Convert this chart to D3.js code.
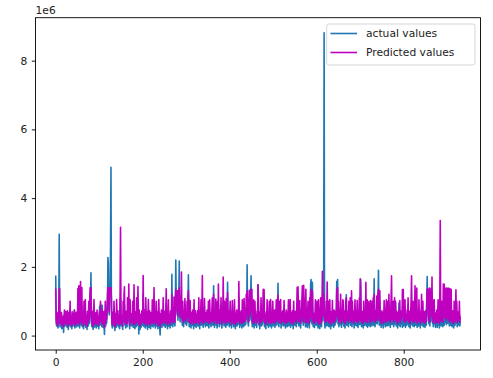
<!DOCTYPE html>
<html>
<head>
<meta charset="utf-8">
<script src="https://cdn.jsdelivr.net/npm/d3@7"></script>
<style>
  body { margin: 0; background: #fff; }
  svg { font-family: "DejaVu Sans", sans-serif; }
</style>
</head>
<body>
<svg id="chart" width="493" height="378"></svg>
<script>
// values, in units of 1e4
const actualValues = [
  175,42,28,60,35,22,48,70,295,40,25,55,33,68,20,45,30,52,9,38,62,27,44,71,30,
  55,24,70,38,18,62,45,30,78,26,50,35,20,66,42,28,58,33,74,22,47,36,60,25,40,
  35,65,28,90,40,22,75,118,48,30,85,26,55,38,20,62,44,30,70,24,50,36,18,58,42,
  28,64,35,55,120,88,183,40,26,60,32,18,48,70,25,42,30,56,22,38,64,27,45,33,20,
  52,85,30,92,45,68,26,88,40,24,58,35,3,46,72,28,50,36,62,80,227,210,95,60,140,
  120,260,490,80,35,22,58,40,28,66,30,15,52,38,24,70,44,30,60,26,48,35,20,85,110,
  60,28,45,33,18,62,40,75,90,30,48,22,58,36,26,70,42,55,95,32,20,64,38,50,28,
  45,30,62,24,40,92,35,20,55,38,26,68,42,30,85,50,5,60,34,18,48,36,25,58,40,
  30,120,45,26,60,35,22,72,40,28,55,18,46,66,32,24,58,38,20,50,42,28,64,36,25,
  40,75,30,52,22,44,62,28,36,55,20,48,68,32,26,2,50,38,60,24,42,30,70,45,28,
  35,58,24,46,90,30,52,20,40,64,28,48,36,22,56,42,30,178,60,26,50,34,70,40,28,
  80,220,110,95,60,130,45,88,120,217,70,40,100,65,85,50,30,72,44,26,60,38,90,52,34,
  48,30,66,40,95,177,58,26,44,70,36,22,55,40,30,62,45,20,52,38,28,66,42,24,50,
  36,60,28,46,72,32,20,54,40,66,30,48,90,38,24,58,34,70,44,26,52,40,30,62,36,
  28,50,22,44,68,34,56,26,40,62,80,30,48,145,36,24,58,42,70,30,46,22,64,38,90,
  40,26,60,34,48,72,30,22,56,38,100,44,28,62,36,50,24,70,42,30,155,48,34,58,26,
  44,66,30,52,22,40,70,34,56,26,46,64,30,20,50,38,62,28,44,58,34,110,40,24,52,
  30,58,40,22,64,36,48,26,70,42,30,56,34,80,50,206,60,38,28,66,90,44,52,110,174,
  60,40,26,54,34,70,22,46,62,30,50,36,24,58,42,148,66,30,48,20,56,38,72,28,44,
  32,56,68,40,60,26,48,36,20,54,42,66,30,50,24,44,62,34,28,58,40,22,52,36,64,
  28,46,34,60,24,50,38,70,30,44,56,152,40,26,62,36,48,66,22,54,32,42,58,28,46,
  64,30,50,22,42,60,34,26,56,40,68,28,46,36,70,24,52,38,30,58,44,20,62,34,48,
  30,56,42,26,60,90,36,120,50,28,44,64,32,22,58,40,70,100,46,30,110,62,38,54,26,
  80,36,56,24,44,62,30,48,22,70,40,150,163,58,34,155,60,26,50,38,24,46,66,32,54,
  30,58,40,22,64,36,48,20,56,70,34,26,60,90,44,120,160,881,40,22,50,36,62,28,90,
  48,30,62,26,44,70,36,20,54,40,28,66,34,50,24,60,42,30,56,38,46,157,70,163,34,
  58,26,46,64,32,80,40,24,54,36,70,48,28,60,38,22,50,66,119,30,44,56,34,26,62,
  36,50,74,30,44,90,26,60,40,34,56,22,48,68,30,42,58,28,64,36,24,52,40,70,32,
  60,163,40,26,56,34,48,22,62,38,30,54,44,90,28,46,66,24,52,36,30,58,40,26,64,
  36,48,28,62,40,72,30,165,44,26,58,36,50,80,34,60,120,190,48,30,100,38,56,24,44,
  60,30,52,22,40,66,34,46,26,58,38,50,28,64,42,30,90,36,54,24,48,70,100,32,44,
  38,60,26,48,96,34,97,44,28,56,36,22,52,40,95,30,62,26,46,34,58,38,24,70,42,
  28,54,36,64,24,48,40,30,60,34,90,44,26,56,38,22,50,70,80,32,46,28,62,40,26,
  52,70,30,44,60,36,24,58,40,28,66,34,48,22,56,38,80,30,46,62,26,40,54,34,24,
  56,40,30,100,172,60,120,44,34,80,28,60,42,90,50,120,36,48,26,62,100,34,52,24,46,
  34,58,24,42,66,30,48,22,56,100,40,28,62,36,50,26,70,44,30,54,38,60,90,32,48,
  80,36,60,110,44,28,90,52,30,64,40,26,56,34,48,22,60,38,30,52,95,36,58,26,44,
  30,56,40,62,28,42
]

const predictedValues = [
  137,49,34,68,39,28,53,71,137,137,36,54,41,66,30,50,38,56,26,45,74,34,53,69,38,
  60,32,72,45,27,66,53,36,100,34,56,41,28,69,48,35,64,39,74,30,53,44,68,33,47,
  45,137,38,145,53,32,110,157,60,39,140,36,68,47,28,100,53,39,105,33,60,45,27,71,51,
  38,100,47,68,139,125,139,53,35,71,44,27,60,105,34,54,41,66,32,48,74,36,56,44,30,
  64,71,41,100,54,72,34,74,50,33,69,45,23,56,100,38,62,47,72,120,139,139,110,68,139,
  139,139,139,110,45,30,68,51,36,100,41,26,64,47,33,105,54,39,72,35,60,45,30,130,315,
  71,36,56,44,28,100,50,120,142,39,60,33,71,45,35,110,53,68,150,42,30,105,48,64,38,
  59,39,100,33,51,148,45,32,69,50,36,110,54,41,143,64,33,74,45,28,62,48,35,72,53,
  41,175,59,36,74,47,33,110,53,38,69,30,60,105,44,35,72,50,32,66,54,39,104,48,35,
  53,140,41,68,33,56,100,39,47,69,30,62,105,44,36,26,64,50,74,35,54,40,110,60,38,
  47,71,36,60,136,42,66,32,53,104,39,63,48,33,72,54,41,120,74,38,65,45,112,53,39,
  100,135,120,110,69,130,56,105,125,139,74,53,112,71,185,62,45,100,54,38,69,48,108,60,44,
  60,44,100,54,115,130,68,38,56,102,48,35,68,53,41,74,57,33,104,50,39,72,53,36,63,
  47,72,39,60,110,44,33,69,53,104,42,63,175,51,36,71,47,108,57,38,66,53,42,74,48,
  39,100,35,57,104,45,66,38,53,72,110,42,60,120,48,36,69,53,106,44,59,35,100,50,150,
  53,36,74,45,60,110,42,33,69,50,170,56,39,100,47,65,35,108,54,41,125,60,45,71,38,
  57,100,42,65,33,53,102,47,69,36,60,104,42,32,65,50,74,39,56,72,45,157,53,35,66,
  41,72,53,35,104,48,62,38,108,54,42,71,47,120,63,130,74,50,39,100,132,57,66,110,135,
  72,135,38,68,47,104,35,60,100,44,63,50,36,72,54,148,104,42,62,33,69,51,110,40,57,
  45,71,135,53,134,38,62,48,33,69,54,104,44,65,36,57,100,47,39,105,53,35,66,48,100,
  39,60,47,74,36,65,50,104,42,57,71,118,54,38,100,48,62,105,35,68,45,56,72,40,60,
  102,42,65,35,54,74,47,38,69,53,104,41,60,48,105,36,66,50,42,72,56,33,100,47,62,
  42,71,54,38,74,140,48,142,65,41,57,102,44,35,72,53,110,145,60,42,146,100,50,68,38,
  135,48,71,38,59,100,44,62,35,110,54,125,135,72,47,130,74,39,65,51,36,60,104,45,68,
  42,100,53,35,104,48,63,33,69,110,47,39,72,187,57,110,120,100,53,38,66,50,100,42,156,
  63,45,100,38,57,104,48,33,69,53,42,102,47,65,36,74,56,42,71,51,60,135,110,140,47,
  100,39,60,74,45,120,54,36,69,50,104,100,41,72,53,35,65,104,110,44,59,71,48,39,100,
  50,66,110,44,59,130,39,100,54,47,71,36,62,104,44,57,74,41,102,50,38,68,54,110,45,
  165,140,53,39,71,47,63,35,100,51,42,69,59,155,41,60,104,38,66,50,100,72,53,38,102,
  50,63,41,100,53,110,45,120,59,39,72,48,65,115,45,74,125,135,62,44,130,51,69,36,57,
  72,44,66,36,54,102,48,60,39,71,104,65,41,100,56,45,120,50,68,38,62,108,174,47,59,
  50,100,39,63,110,47,100,59,42,71,50,35,66,54,74,44,102,39,60,48,72,53,134,110,134,
  42,69,50,104,38,63,54,44,74,47,110,57,39,71,51,36,65,106,174,45,62,41,100,53,38,
  68,145,44,59,100,138,36,72,53,42,104,47,63,35,71,53,120,42,60,100,39,54,69,48,36,
  72,54,42,110,136,100,135,59,45,138,39,100,56,138,68,170,50,63,38,100,105,47,66,36,60,
  47,74,38,57,104,42,63,35,120,335,53,42,100,48,65,39,150,57,150,69,51,100,138,45,138,
  120,50,137,138,59,41,137,69,44,135,54,38,72,47,63,35,100,53,42,68,133,48,100,38,57,
  44,69,53,100,39,56
]

const yTicks = [0, 2, 4, 6, 8]        // in 1e6
const xTicks = [0, 200, 400, 600, 800]
const seriesNames = ["actual values", "Predicted values"]
const seriesColors = ["#1f77b4", "#bf00bf"]

const svg = d3.select("#chart")

const box = {left: 35.5, right: 480.5, top: 17.7, bottom: 350}

const n = actualValues.length
const x = d3.scaleLinear()
  .domain([-(n - 1) * 0.05, (n - 1) * 1.05])
  .range([box.left, box.right])

const allVals = actualValues.concat(predictedValues).map(v => v * 1e4)
const yMin = d3.min(allVals), yMax = d3.max(allVals)
const pad = (yMax - yMin) * 0.05
const y = d3.scaleLinear()
  .domain([yMin - pad, yMax + pad])
  .range([box.bottom, box.top])

const line = d3.line()
  .x((d, i) => x(i))
  .y(d => y(d * 1e4))

const plot = svg.append("g")

plot.append("clipPath").attr("id", "clip")
  .append("rect")
  .attr("x", box.left).attr("y", box.top)
  .attr("width", box.right - box.left).attr("height", box.bottom - box.top)

const lines = plot.append("g").attr("clip-path", "url(#clip)")
;[actualValues, predictedValues].forEach((vals, k) => {
  lines.append("path")
    .datum(vals)
    .attr("d", line)
    .attr("fill", "none")
    .attr("stroke", seriesColors[k])
    .attr("stroke-width", 1.6)
    .attr("stroke-linejoin", "round")
})

// x axis
const xAxis = svg.append("g")
  .attr("transform", "translate(0," + box.bottom + ")")
  .call(d3.axisBottom(x).tickValues(xTicks).tickSize(3.7).tickPadding(4.5).tickFormat(d3.format("d")))
xAxis.select(".domain").remove()

// y axis
const yAxis = svg.append("g")
  .attr("transform", "translate(" + box.left + ",0)")
  .call(d3.axisLeft(y).tickValues(yTicks.map(t => t * 1e6)).tickSize(3.7).tickPadding(4.5)
    .tickFormat(d => d / 1e6))
yAxis.select(".domain").remove()

svg.selectAll(".tick line").attr("stroke", "#000").attr("stroke-width", 0.9)
svg.selectAll(".tick text")
  .attr("fill", "#222")
  .style("font-size", "10.7px")
  .style("font-family", "DejaVu Sans")

// spines
svg.append("rect")
  .attr("x", box.left).attr("y", box.top)
  .attr("width", box.right - box.left).attr("height", box.bottom - box.top)
  .attr("fill", "none")
  .attr("stroke", "#000")
  .attr("stroke-width", 0.9)

// offset text
svg.append("text")
  .attr("x", box.left)
  .attr("y", 13.5)
  .attr("fill", "#222")
  .style("font-size", "10.7px")
  .text("1e6")

// legend
const legend = svg.append("g")
legend.append("rect")
  .attr("x", 326.7).attr("y", 24)
  .attr("width", 148.3).attr("height", 41)
  .attr("rx", 2.5)
  .attr("fill", "#fff")
  .attr("fill-opacity", 0.8)
  .attr("stroke", "#d5d5d5")
  .attr("stroke-width", 1)

seriesNames.forEach((name, k) => {
  const ly = 33.5 + k * 19
  legend.append("line")
    .attr("x1", 330.5).attr("x2", 357)
    .attr("y1", ly).attr("y2", ly)
    .attr("stroke", seriesColors[k])
    .attr("stroke-width", 1.6)
  legend.append("text")
    .attr("x", 366)
    .attr("y", ly + 3.9)
    .attr("fill", "#222")
    .style("font-size", "10.7px")
    .text(name)
})
</script>
</body>
</html>
